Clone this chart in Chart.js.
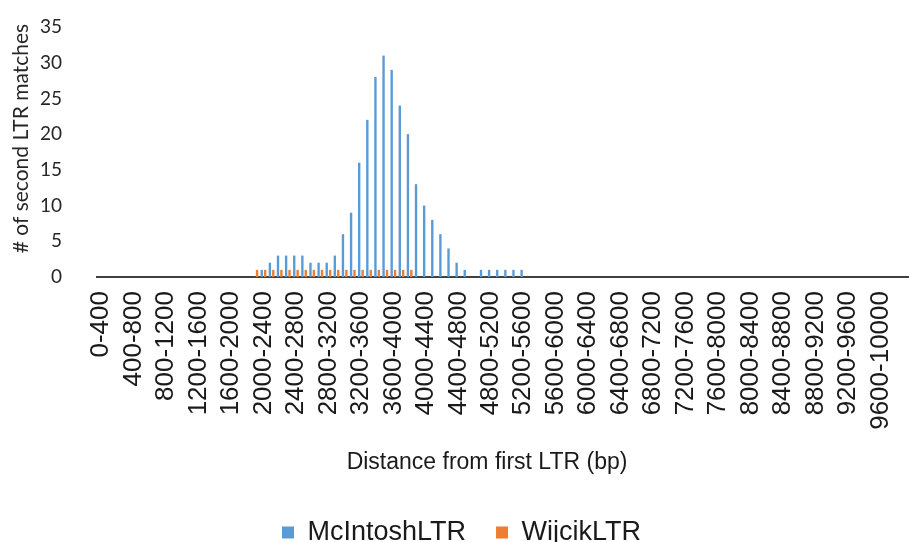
<!DOCTYPE html>
<html><head><meta charset="utf-8">
<script src="https://cdn.jsdelivr.net/npm/chart.js@4/dist/chart.umd.min.js"></script>
<style>html,body{margin:0;padding:0;background:#fff;overflow:hidden}#wrap{width:909px;height:542px;position:relative}</style>
</head><body><div id="wrap"><canvas id="c" width="909" height="542"></canvas></div>
<script>
// Bins of 400 bp, sliding by 100 bp
const categories = [];
for (let s = 0; s < 10000; s += 100) categories.push(s + '-' + (s + 400));

const tickLabels = ['0-400','400-800','800-1200','1200-1600','1600-2000','2000-2400','2400-2800',
  '2800-3200','3200-3600','3600-4000','4000-4400','4400-4800','4800-5200','5200-5600','5600-6000',
  '6000-6400','6400-6800','6800-7200','7200-7600','7600-8000','8000-8400','8400-8800','8800-9200',
  '9200-9600','9600-10000'];

const mcintoshLTR = [
  0,0,0,0,0,0,0,0,0,0,
  0,0,0,0,0,0,0,0,0,0,
  1,2,3,3,3,3,2,2,2,3,
  6,9,16,22,28,31,29,24,20,13,
  10,8,6,4,2,1,0,1,1,1,
  1,1,1,0,0,0,0,0,0,0,
  0,0,0,0,0,0,0,0,0,0,
  0,0,0,0,0,0,0,0,0,0,
  0,0,0,0,0,0,0,0,0,0,
  0,0,0,0,0,0,0,0,0,0
];
const wijcikLTR = [
  0,0,0,0,0,0,0,0,0,0,
  0,0,0,0,0,0,0,0,0,1,
  1,1,1,1,1,1,1,1,1,1,
  1,1,1,1,1,1,1,1,1,0,
  0,0,0,0,0,0,0,0,0,0,
  0,0,0,0,0,0,0,0,0,0,
  0,0,0,0,0,0,0,0,0,0,
  0,0,0,0,0,0,0,0,0,0,
  0,0,0,0,0,0,0,0,0,0,
  0,0,0,0,0,0,0,0,0,0
];
const seriesNames = ['McIntoshLTR', 'WijcikLTR'];

const X_SCALE_HEIGHT = 212;

// nudge the legend a little to the right, as in the original
const legendShift = {
  id: 'legendShift',
  afterLayout(chart) {
    if (chart.legend) { chart.legend.left += 7; chart.legend.right += 7; }
  }
};

new Chart(document.getElementById('c'), {
  type: 'bar',
  plugins: [legendShift],
  data: {
    labels: categories,
    datasets: [
      { label: seriesNames[0], data: mcintoshLTR, backgroundColor: '#5B9BD5',
        categoryPercentage: 0.84, barPercentage: 0.7 },
      { label: seriesNames[1], data: wijcikLTR, backgroundColor: '#ED7D31',
        categoryPercentage: 0.84, barPercentage: 0.7 }
    ]
  },
  options: {
    responsive: false,
    animation: false,
    devicePixelRatio: 1,
    layout: { padding: { top: 27, left: 0, right: 0, bottom: -14 } },
    plugins: {
      tooltip: { enabled: false },
      legend: {
        position: 'bottom',
        labels: {
          boxWidth: 12, boxHeight: 12, padding: 30,
          color: '#1a1a1a',
          font: { family: '"Liberation Sans", Arial, sans-serif', size: 27 }
        }
      }
    },
    scales: {
      x: {
        grid: { display: false, drawTicks: false },
        border: { display: true, color: '#404040', width: 2 },
        ticks: {
          autoSkip: false, minRotation: 90, maxRotation: 90, padding: 14,
          color: '#1a1a1a',
          font: { family: '"Liberation Sans", Arial, sans-serif', size: 26 },
          callback: function (v, i) {
            const l = this.getLabelForValue(v);
            return tickLabels.includes(l) && i % 4 === 0 ? l : '';
          }
        },
        title: {
          display: true, text: 'Distance from first LTR (bp)     ',
          color: '#1a1a1a', padding: { top: 0, bottom: 13 },
          font: { family: '"Liberation Sans", Arial, sans-serif', size: 23 }
        },
        afterFit: s => { s.height = X_SCALE_HEIGHT; s.paddingLeft = 0; s.paddingRight = 0; }
      },
      y: {
        min: 0, max: 35,
        grid: { display: false, drawTicks: false },
        border: { display: false },
        ticks: {
          stepSize: 5, padding: 35, color: '#262626',
          font: { family: 'Lato, sans-serif', size: 19 }
        },
        title: {
          display: true, text: '     # of second LTR matches',
          color: '#262626', padding: { top: 9, bottom: 0 },
          font: { family: 'Lato, sans-serif', size: 21 }
        },
        afterFit: s => { s.width = 97; s.paddingTop = 0; s.paddingBottom = 0; }
      }
    }
  }
});
</script>
</body></html>
